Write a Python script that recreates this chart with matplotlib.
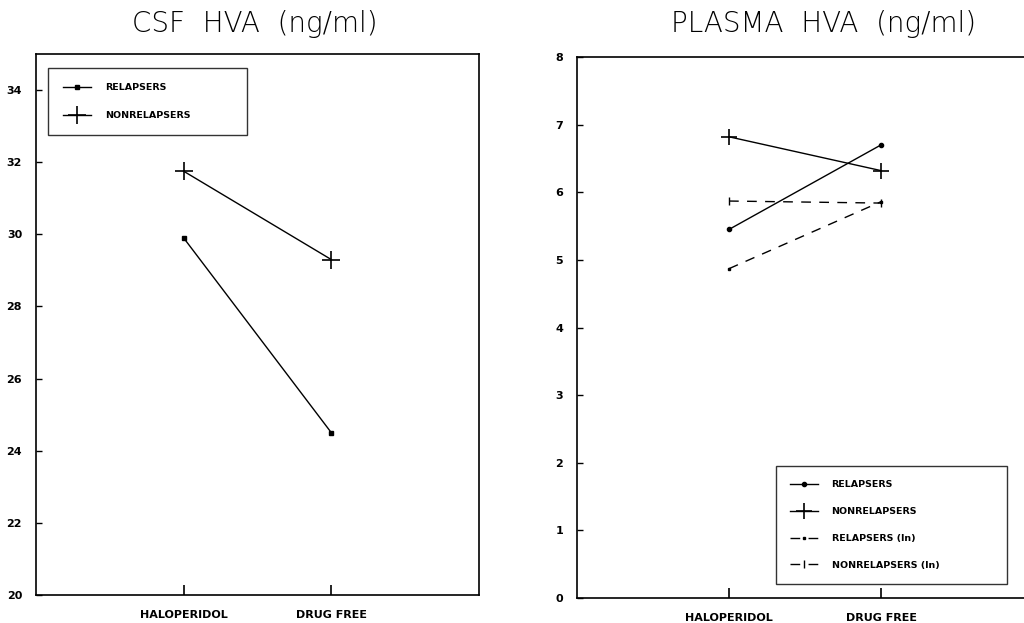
import matplotlib
matplotlib.use("Agg")
import matplotlib.pyplot as plt

# x categories
conditions = ["HALOPERIDOL", "DRUG FREE"]
x_pos = [1, 2]

# CSF HVA (ng/ml)
csf_relapsers = [29.9, 24.5]
csf_nonrelapsers = [31.75, 29.3]

# Plasma HVA (ng/ml)
plasma_relapsers = [5.45, 6.7]
plasma_nonrelapsers = [6.82, 6.32]
plasma_relapsers_ln = [4.87, 5.86]
plasma_nonrelapsers_ln = [5.87, 5.84]

fig = plt.figure(figsize=(10.24, 6.23), dpi=100)
W, H = 1024, 623

ax1 = fig.add_axes([36 / W, (H - 595) / H, 443 / W, 541 / H])
ax2 = fig.add_axes([577 / W, (H - 598) / H, 456 / W, 541 / H])

tick_font = dict(fontsize=8, fontweight="bold", family="DejaVu Sans")
title_font = dict(fontsize=20, fontweight="light", family="DejaVu Sans",
                  ha="center", va="center")
leg_font = dict(size=6.8, weight="bold")

# titles placed in figure pixels
fig.text(255 / W, 1 - 24 / H, "CSF  HVA  (ng/ml)", **title_font)
fig.text(824 / W, 1 - 24 / H, "PLASMA  HVA  (ng/ml)", **title_font)

# --- left panel
ax1.plot(x_pos, csf_relapsers, "-", color="black", lw=1.0,
         marker="s", ms=2.5, label="RELAPSERS")
ax1.plot(x_pos, csf_nonrelapsers, "-", color="black", lw=1.0,
         marker="+", ms=13, mew=1.2, label="NONRELAPSERS")
ax1.set_xlim(0, 3)
ax1.set_ylim(20, 35)
ax1.set_yticks([20, 22, 24, 26, 28, 30, 32, 34])
leg1 = ax1.legend(loc="upper left", bbox_to_anchor=(0.027, 0.5, 0.449, 0.474),
                  mode="expand", prop=leg_font, frameon=True,
                  fancybox=False, edgecolor="black", borderpad=1.6,
                  labelspacing=2.0, handlelength=3.0, handletextpad=1.4,
                  borderaxespad=0)
leg1.get_frame().set_linewidth(1.0)

# --- right panel
ax2.plot(x_pos, plasma_relapsers, "-", color="black", lw=1.0,
         marker="o", ms=3, label="RELAPSERS")
ax2.plot(x_pos, plasma_nonrelapsers, "-", color="black", lw=1.0,
         marker="+", ms=12, mew=1.2, label="NONRELAPSERS")
ax2.plot(x_pos, plasma_relapsers_ln, "--", color="black", lw=1.0,
         dashes=(7, 6), marker="s", ms=2, label="RELAPSERS (ln)")
ax2.plot(x_pos, plasma_nonrelapsers_ln, "--", color="black", lw=1.0,
         dashes=(7, 6), marker="|", ms=6, label="NONRELAPSERS (ln)")
ax2.set_xlim(0, 3)
ax2.set_ylim(0, 8)
ax2.set_yticks(range(0, 9))
leg2 = ax2.legend(loc="lower left", bbox_to_anchor=(0.436, 0.026, 0.507, 0.222),
                  mode="expand", prop=leg_font, frameon=True,
                  fancybox=False, edgecolor="black", borderpad=1.5,
                  labelspacing=1.9, handlelength=3.0, handletextpad=1.4,
                  borderaxespad=0)
leg2.get_frame().set_linewidth(1.0)

for ax in (ax1, ax2):
    ax.set_xticks(x_pos)
    ax.set_xticklabels(conditions, **tick_font)
    for lab in ax.get_yticklabels():
        lab.set_fontsize(8)
        lab.set_fontweight("bold")
    ax.tick_params(axis="x", direction="in", length=7, width=1.2, pad=11)
    ax.tick_params(axis="y", direction="in", length=4, width=1.0, pad=10)
    for sp in ax.spines.values():
        sp.set_linewidth(1.2)

fig.savefig("out.png", dpi=100)
